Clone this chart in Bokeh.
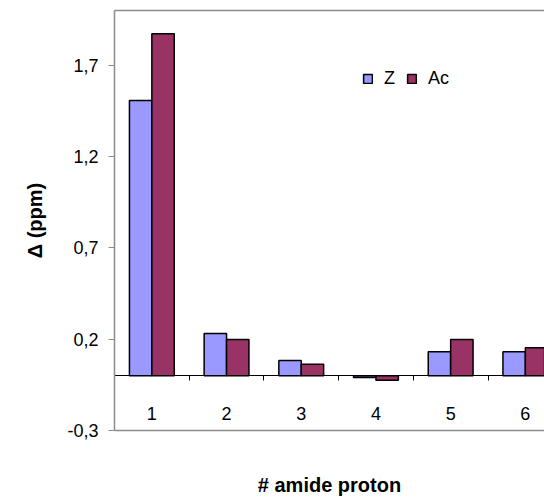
from bokeh.plotting import figure
from bokeh.models import (Range1d, LinearAxis, FixedTicker, Legend, LegendItem,
                          ColumnDataSource)
from bokeh.embed import file_html
from bokeh.resources import INLINE

# ---- data ----
categories = ["1", "2", "3", "4", "5", "6"]
z_values = [1.507, 0.231, 0.083, -0.010, 0.131, 0.131]
ac_values = [1.872, 0.198, 0.063, -0.025, 0.198, 0.153]
series_names = ["Z", "Ac"]
y_tick_values = [-0.3, 0.2, 0.7, 1.2, 1.7]
y_tick_labels = ["-0,3", "0,2", "0,7", "1,2", "1,7"]
x_title = "# amide proton"
y_title = "\u0394 (ppm)"

FONT = "Liberation Sans"
Z_COLOR = "#9999FF"
AC_COLOR = "#993366"
GREY = "#8c8c8c"

xs = list(range(1, len(categories) + 1))
src = ColumnDataSource(dict(
    xz=[x - 0.15 for x in xs],
    xa=[x + 0.15 for x in xs],
    z=z_values,
    ac=ac_values,
))

p = figure(width=544, height=499, output_backend="svg", toolbar_location=None,
           x_range=Range1d(0.5, 0.5 + 430 / 74.7), y_range=Range1d(-0.3, 2.0),
           x_axis_location=None, y_axis_location=None,
           min_border_left=114, min_border_right=0, min_border_top=10,
           min_border_bottom=69)
p.outline_line_color = None
p.xgrid.visible = False
p.ygrid.visible = False
p.background_fill_color = "white"
p.border_fill_color = "white"

rz = p.vbar(x="xz", top="z", bottom=0, width=0.3, source=src,
            fill_color=Z_COLOR, line_color="black", line_width=1.5)
ra = p.vbar(x="xa", top="ac", bottom=0, width=0.3, source=src,
            fill_color=AC_COLOR, line_color="black", line_width=1.5)

# left value axis
yax = LinearAxis(ticker=FixedTicker(ticks=y_tick_values),
                 major_label_overrides={v: l for v, l in zip(y_tick_values, y_tick_labels)})
yax.axis_line_color = GREY
yax.axis_line_width = 1.5
yax.major_tick_line_color = GREY
yax.major_tick_out = 6
yax.major_tick_in = 0
yax.minor_tick_line_color = None
yax.major_label_standoff = 10
yax.major_label_text_font = FONT
yax.major_label_text_font_size = "18px"
yax.major_label_text_color = "black"
yax.axis_label = y_title
yax.axis_label_text_font = FONT
yax.axis_label_text_font_style = "bold"
yax.axis_label_text_font_size = "20px"
yax.axis_label_text_color = "black"
yax.axis_label_standoff = 18
p.add_layout(yax, "left")

# top border
top_ax = LinearAxis(ticker=FixedTicker(ticks=[]))
top_ax.axis_line_color = GREY
top_ax.axis_line_width = 1.5
top_ax.major_tick_out = 0
top_ax.major_tick_in = 0
top_ax.major_label_standoff = 0
top_ax.minor_tick_line_color = None
p.add_layout(top_ax, "above")

# bottom border with title
bot_ax = LinearAxis(ticker=FixedTicker(ticks=[]))
bot_ax.axis_line_color = GREY
bot_ax.axis_line_width = 1.5
bot_ax.major_tick_out = 0
bot_ax.major_tick_in = 0
bot_ax.major_label_standoff = 0
bot_ax.minor_tick_line_color = None
bot_ax.axis_label = x_title
bot_ax.axis_label_text_font = FONT
bot_ax.axis_label_text_font_style = "bold"
bot_ax.axis_label_text_font_size = "20px"
bot_ax.axis_label_text_color = "black"
bot_ax.axis_label_standoff = 43
p.add_layout(bot_ax, "below")

# category axis crossing at zero
cat_ax = LinearAxis(fixed_location=0,
                    ticker=FixedTicker(ticks=xs, minor_ticks=[x + 0.5 for x in xs]),
                    major_label_overrides={x: c for x, c in zip(xs, categories)})
cat_ax.axis_line_color = "black"
cat_ax.axis_line_width = 1
cat_ax.major_tick_line_color = None
cat_ax.major_tick_out = 0
cat_ax.major_tick_in = 0
cat_ax.minor_tick_line_color = "black"
cat_ax.minor_tick_out = 5
cat_ax.minor_tick_in = 0
cat_ax.major_label_standoff = 26
cat_ax.major_label_text_font = FONT
cat_ax.major_label_text_font_size = "18px"
cat_ax.major_label_text_color = "black"
p.add_layout(cat_ax, "below")

legend = Legend(items=[LegendItem(label=series_names[0], renderers=[rz]),
                       LegendItem(label=series_names[1], renderers=[ra])],
                orientation="horizontal", location=(248, 341),
                glyph_width=11, glyph_height=11, label_standoff=11, spacing=11,
                label_width=5,
                padding=0, margin=0, border_line_color=None,
                background_fill_alpha=0,
                label_text_font=FONT, label_text_font_size="18px",
                label_text_color="black")
p.add_layout(legend)

open("out.html", "w").write(file_html(p, INLINE))
